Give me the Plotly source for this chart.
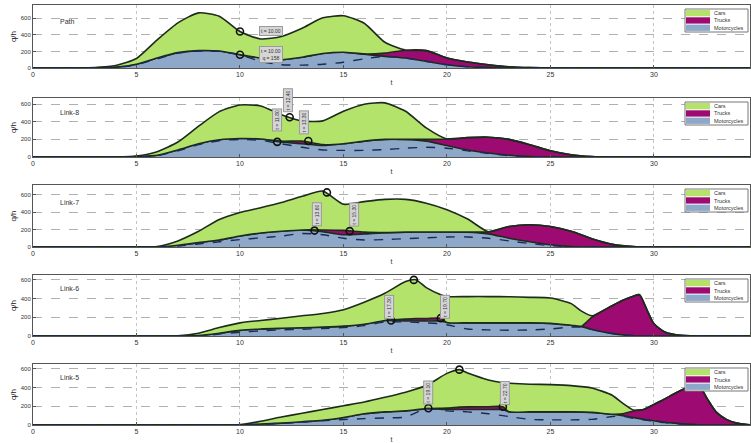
import plotly.graph_objects as go

# ---------------- data ----------------
panel_names = ["Path", "Link-8", "Link-7", "Link-6", "Link-5"]
series_names = ["Motorcycles", "Trucks", "Cars"]
x_ticks = [0, 5, 10, 15, 20, 25, 30]
y_ticks = [0, 200, 400, 600]
y_max = [760, 670, 710, 650, 650]

t1 = [0, 2, 3, 4, 5, 6, 7, 8, 9, 10, 11, 12, 13, 14, 15, 16, 17, 18, 19, 20, 21, 22, 23, 24, 25, 35]
moto1 = [0, 0, 2, 10, 45, 120, 185, 210, 205, 160, 120, 100, 130, 175, 190, 165, 140, 120, 80, 40, 15, 5, 0, 0, 0, 0]
trucks1 = [0, 0, 0, 0, 0, 0, 0, 0, 0, 0, 0, 0, 0, 0, 0, 5, 40, 95, 130, 80, 58, 35, 15, 4, 0, 0]
cars1 = [0, 1, 4, 20, 70, 220, 360, 455, 420, 280, 230, 280, 350, 430, 440, 370, 130, 0, 0, 0, 0, 0, 0, 0, 0, 0]
dash1 = [0, 0, 0, 5, 40, 110, 180, 205, 200, 160, 80, 40, 35, 45, 70, 110, 140, 120, 80, 40, 15, 5, 0, 0, 0, 0]
mark_t1 = [10, 10]
mark_q1 = [440, 160]

t2 = [0, 4, 5, 6, 7, 8, 9, 10, 11, 12, 13, 14, 15, 16, 17, 18, 19, 20, 21, 22, 23, 24, 25, 26, 27, 28, 35]
moto2 = [0, 0, 5, 20, 80, 150, 195, 210, 205, 170, 150, 130, 150, 180, 200, 200, 180, 130, 80, 45, 20, 5, 0, 0, 0, 0, 0]
trucks2 = [0, 0, 0, 0, 0, 0, 0, 0, 0, 10, 30, 10, 0, 0, 0, 0, 20, 75, 140, 180, 180, 135, 70, 25, 5, 0, 0]
cars2 = [0, 0, 5, 40, 90, 200, 320, 380, 375, 300, 230, 270, 370, 420, 415, 320, 130, 0, 0, 0, 0, 0, 0, 0, 0, 0, 0]
dash2 = [0, 0, 0, 15, 70, 140, 185, 200, 190, 150, 110, 80, 75, 75, 85, 100, 110, 100, 70, 40, 15, 5, 0, 0, 0, 0, 0]
mark_t2 = [11.8, 12.4, 13.3]
mark_q2 = [172, 452, 182]

t3 = [0, 5, 6, 7, 8, 9, 10, 11, 12, 13, 14, 15, 16, 17, 18, 19, 20, 21, 22, 23, 24, 25, 26, 27, 28, 29, 30, 35]
moto3 = [0, 0, 0, 20, 50, 80, 125, 160, 180, 195, 175, 140, 150, 165, 170, 172, 172, 170, 150, 100, 60, 25, 5, 0, 0, 0, 0, 0]
trucks3 = [0, 0, 0, 0, 0, 0, 0, 0, 0, 0, 20, 50, 20, 0, 0, 0, 0, 0, 25, 135, 195, 210, 175, 95, 30, 5, 0, 0]
cars3 = [0, 0, 5, 50, 130, 235, 270, 290, 330, 385, 445, 300, 350, 380, 375, 330, 255, 150, 0, 0, 0, 0, 0, 0, 0, 0, 0, 0]
dash3 = [0, 0, 0, 10, 35, 60, 85, 105, 125, 155, 140, 100, 80, 85, 95, 105, 115, 115, 100, 70, 40, 15, 3, 0, 0, 0, 0, 0]
mark_t3 = [13.6, 14.2, 15.3]
mark_q3 = [188, 625, 182]

t4 = [0, 7, 8, 9, 10, 11, 12, 13, 14, 15, 16, 17, 18, 18.5, 19, 19.7, 20, 21, 22, 23, 24, 25, 26, 26.5,
      27, 27.5, 28, 28.5, 29, 29.3, 29.7, 30, 30.5, 31, 31.5, 32, 35]
moto4 = [0, 0, 5, 30, 60, 75, 82, 88, 95, 105, 125, 165, 160, 160, 160, 160, 145, 140, 140, 140, 140, 135, 115, 100,
         70, 45, 25, 10, 3, 0, 0, 0, 0, 0, 0, 0, 0]
trucks4 = [0, 0, 0, 0, 0, 0, 0, 0, 0, 0, 0, 0, 20, 25, 25, 30, 0, 0, 0, 0, 0, 0, 0, 5,
           130, 220, 300, 370, 420, 440, 260, 130, 45, 15, 5, 0, 0]
cars4 = [0, 2, 25, 60, 80, 90, 108, 127, 145, 175, 235, 290, 400, 415, 330, 250, 275, 280, 280, 278, 272, 270, 230, 160,
         15, 0, 0, 0, 0, 0, 0, 0, 0, 0, 0, 0, 0]
dash4 = [0, 0, 0, 20, 40, 55, 65, 72, 80, 90, 110, 150, 150, 145, 140, 130, 120, 75, 65, 62, 65, 75, 95, 95,
         70, 45, 25, 12, 5, 0, 0, 0, 0, 0, 0, 0, 0]
mark_t4 = [17.3, 18.4, 19.7]
mark_q4 = [165, 598, 190]

t5 = [0, 9, 10, 11, 12, 13, 14, 15, 16, 17, 18, 19, 20, 20.6, 21, 22, 22.7, 23, 24, 25, 26, 27, 28, 28.5,
      29, 29.5, 30, 30.5, 31, 31.5, 32, 32.3, 32.6, 33, 33.5, 34, 34.5, 35]
moto5 = [0, 0, 0, 10, 20, 35, 50, 80, 120, 140, 150, 175, 165, 165, 165, 165, 165, 140, 140, 140, 140, 135, 115, 100,
         80, 60, 45, 30, 20, 10, 5, 0, 0, 0, 0, 0, 0, 0]
trucks5 = [0, 0, 0, 0, 0, 0, 0, 0, 0, 0, 0, 0, 15, 25, 28, 30, 30, 0, 0, 0, 0, 0, 0, 20,
           70, 105, 175, 245, 315, 380, 390, 380, 270, 140, 60, 20, 5, 0]
cars5 = [0, 0, 5, 30, 65, 90, 115, 125, 125, 155, 200, 245, 370, 400, 360, 285, 255, 305, 295, 290, 280, 260, 200, 110,
         10, 0, 0, 0, 0, 0, 0, 0, 0, 0, 0, 0, 0, 0]
dash5 = [0, 0, 0, 8, 18, 30, 45, 58, 68, 75, 85, 175, 150, 145, 140, 120, 100, 90, 60, 55, 55, 60, 90, 95,
         70, 55, 40, 25, 15, 8, 0, 0, 0, 0, 0, 0, 0, 0]
mark_t5 = [19.1, 20.6, 22.7]
mark_q5 = [178, 590, 195]

# data-tip boxes: (t, q, text, vertical)
tips = [
    [(11.5, 448, "t = 10.00", False), (11.5, 160, "t = 10.00<br>q = 158", False)],
    [(11.8, 418, "t = 11.80", True), (12.3, 640, "t = 12.40", True), (13.1, 395, "t = 13.30", True)],
    [(13.7, 370, "t = 13.60", True), (14.3, 735, "t = 14.20", True), (15.5, 370, "t = 15.30", True)],
    [(17.2, 310, "t = 17.30", True), (18.5, 715, "t = 18.40", True), (19.9, 310, "t = 19.70", True)],
    [(19.1, 350, "t = 19.10", True), (20.7, 750, "t = 20.60", True), (22.8, 340, "t = 22.70", True)],
]

panels = [
    (t1, moto1, trucks1, cars1, dash1, mark_t1, mark_q1),
    (t2, moto2, trucks2, cars2, dash2, mark_t2, mark_q2),
    (t3, moto3, trucks3, cars3, dash3, mark_t3, mark_q3),
    (t4, moto4, trucks4, cars4, dash4, mark_t4, mark_q4),
    (t5, moto5, trucks5, cars5, dash5, mark_t5, mark_q5),
]

# ---------------- styling / layout ----------------
W, H = 751, 443
ML, MR, MT, MB = 33, 1, 5, 18
PW, PH = W - ML - MR, H - MT - MB
panel_px = [(5, 68), (98, 157), (185, 247), (275, 336), (364, 425)]  # top, bottom in pixels

def px_x(px):
    return (px - ML) / PW

def px_y(py):
    return (H - MB - py) / PH

col_moto = "#8ea8c9"
col_truck = "#9c0a72"
col_car = "#b3e36b"
edge = "#1d2b1d"
fill_cols = [col_moto, col_truck, col_car]
FONT = "Liberation Sans"

fig = go.Figure()
shapes = []
annotations = []

for i, (t, mo, tr, ca, da, mt, mq) in enumerate(panels):
    k = "" if i == 0 else str(i + 1)
    xa, ya = "x" + k, "y" + k
    for name, vals, fc in zip(series_names, [mo, tr, ca], fill_cols):
        fig.add_trace(go.Scatter(
            x=t, y=vals, name=name, stackgroup="g" + str(i), mode="lines",
            line=dict(color=edge, width=1.6, shape="spline", smoothing=0.6),
            fillcolor=fc, showlegend=False, xaxis=xa, yaxis=ya))
    fig.add_trace(go.Scatter(
        x=t, y=da, mode="lines", line=dict(color="#1b2a55", width=1.4, dash="dash", shape="spline", smoothing=0.6),
        showlegend=False, xaxis=xa, yaxis=ya))
    fig.add_trace(go.Scatter(
        x=mt, y=mq, mode="markers", marker=dict(symbol="circle-open", size=7, color="#111", line=dict(width=1.6)),
        showlegend=False, xaxis=xa, yaxis=ya))

    top, bot = panel_px[i]
    fig.layout["xaxis" + k] = dict(
        domain=[0, 1], range=[0, 34.64], anchor=ya, tickvals=x_ticks,
        showgrid=True, gridcolor="#c4c4c4", griddash="dot", gridwidth=1,
        showline=True, mirror=True, linecolor="#555", linewidth=1,
        ticks="inside", ticklen=3, tickcolor="#555", zeroline=False,
        tickfont=dict(size=7, color="#333", family=FONT),
        title=dict(text="t", font=dict(size=7, color="#333", family=FONT), standoff=2))
    fig.layout["yaxis" + k] = dict(
        domain=[px_y(bot), px_y(top)], range=[0, y_max[i]], anchor=xa, tickvals=y_ticks,
        showgrid=True, gridcolor="#b0b0b0", griddash="dash", gridwidth=1,
        showline=True, mirror=True, linecolor="#555", linewidth=1,
        ticks="inside", ticklen=3, tickcolor="#555", zeroline=False,
        tickfont=dict(size=6, color="#333", family=FONT),
        title=dict(text="q/h", font=dict(size=8, color="#222", family=FONT), standoff=2))

    # panel name
    annotations.append(dict(x=1.2, y=510 if i else 560, xref=xa, yref=ya, text=panel_names[i],
                            showarrow=False, xanchor="left", font=dict(size=7, color="#333", family=FONT)))
    # data tips
    for (tx, tq, txt, vert) in tips[i]:
        annotations.append(dict(x=tx, y=tq, xref=xa, yref=ya, text=txt, showarrow=False,
                                textangle=-90 if vert else 0, bgcolor="#d6d6d6", bordercolor="#9a9a9a",
                                borderwidth=1, borderpad=1, font=dict(size=5, color="#333", family=FONT)))
    # legend box (drawn)
    lx0, lx1 = px_x(685), px_x(748)
    shapes.append(dict(type="rect", xref="paper", yref="paper", x0=lx0, x1=lx1,
                       y0=px_y(top + 27), y1=px_y(top + 4), fillcolor="white",
                       line=dict(color="#777", width=1)))
    for j, (lab, fc) in enumerate([("Cars", col_car), ("Trucks", col_truck), ("Motorcycles", col_moto)]):
        r0 = top + 5 + j * 7.3
        shapes.append(dict(type="rect", xref="paper", yref="paper", x0=px_x(686), x1=px_x(710),
                           y0=px_y(r0 + 6.3), y1=px_y(r0), fillcolor=fc, line=dict(width=0)))
        annotations.append(dict(x=px_x(712), y=px_y(r0 + 3.2), xref="paper", yref="paper", text=lab,
                                showarrow=False, xanchor="left", yanchor="middle",
                                font=dict(size=5.5, color="#333", family=FONT)))

fig.update_layout(
    width=W, height=H, margin=dict(l=ML, r=MR, t=MT, b=MB),
    paper_bgcolor="white", plot_bgcolor="white",
    shapes=shapes, annotations=annotations, showlegend=False,
    font=dict(family=FONT))

fig.write_html("out.html", config={"displayModeBar": False},
               post_script="document.body.style.margin='0px';document.body.style.overflow='hidden';")
